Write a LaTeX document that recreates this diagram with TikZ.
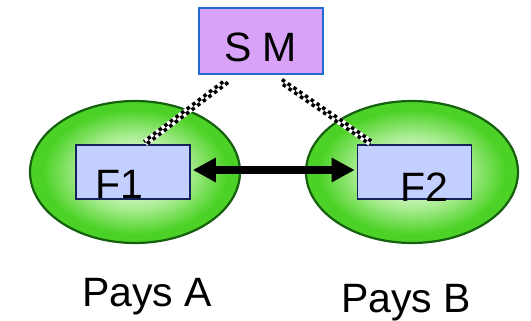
\documentclass[tikz,border=0pt]{standalone}
\usepackage{fontspec}
\setmainfont{Liberation Sans}
\usetikzlibrary{calc,arrows.meta,shapes.geometric}
\definecolor{gcenter}{HTML}{EEFBEA}
\definecolor{gmid}{HTML}{A8EC90}
\definecolor{gouter}{HTML}{4CD226}
\definecolor{gborder}{HTML}{14600E}
\definecolor{ffill}{HTML}{C2CFFF}
\definecolor{fborder}{HTML}{14225A}
\definecolor{smfill}{HTML}{D8A2F8}
\definecolor{smborder}{HTML}{1E6CD0}
\pgfdeclareradialshading{greenball}{\pgfpoint{0bp}{0bp}}{color(0bp)=(gcenter); color(4bp)=(gcenter); color(13bp)=(gmid); color(22bp)=(gouter); color(25bp)=(gouter); color(50bp)=(gouter)}
\tikzset{
  country/.style={ellipse, draw=gborder, line width=2.2pt, shading=greenball, inner sep=0pt},
  fbox/.style={draw=fborder, line width=1.6pt, fill=ffill, minimum width=114pt, minimum height=54pt, inner sep=0pt},
  smbox/.style={draw=smborder, line width=1.8pt, fill=smfill, minimum width=124pt, minimum height=66pt, inner sep=0pt},
  lbl/.style={font=\fontsize{41pt}{41pt}\selectfont, inner sep=0pt, anchor=base west},
}
\begin{document}
\begin{tikzpicture}[x=1pt,y=-1pt]
\useasboundingbox (0,0) rectangle (531,321);
% countries
\node[country, minimum width=210pt, minimum height=142pt] (ca) at (135,172) {};
\node[country, minimum width=212pt, minimum height=142pt] (cb) at (412,172) {};
% boxes
\node[smbox] (sm) at (261,41) {};
\node[lbl] (smt) at (224,62) {S M};
\node[fbox] (f1) at (133,172) {};
\node[fbox] (f2) at (414.5,172) {};
\node[lbl] (f1t) at (95,198) {F1};
\node[lbl] (f2t) at (400,201) {F2};
% checkered links
\coordinate (a1) at (227,81);
\coordinate (b1) at (145,143);
\coordinate (a2) at (281,81);
\coordinate (b2) at (371,143);
\foreach \p/\q in {a1/b1,a2/b2}{
  \draw[white, line width=7pt] (\p) -- (\q);
  \draw[black, line width=3.5pt, dash pattern=on 3.5pt off 3.5pt]
    ($(\p)!1.75pt!90:(\q)$) -- ($(\q)!1.75pt!-90:(\p)$);
  \draw[black, line width=3.5pt, dash pattern=on 3.5pt off 3.5pt, dash phase=3.5pt]
    ($(\p)!1.75pt!-90:(\q)$) -- ($(\q)!1.75pt!90:(\p)$);
}
% double arrow
\draw[line width=8pt, {Triangle[length=23pt,width=23pt]}-{Triangle[length=23pt,width=23pt]}]
  ($(f1.east)+(2,-2)$) -- ($(f2.west)+(-2,-2)$);
% labels
\node[lbl] (pa) at (82,306) {Pays A};
\node[lbl] (pb) at (341,312) {Pays B};
\end{tikzpicture}
\end{document}
